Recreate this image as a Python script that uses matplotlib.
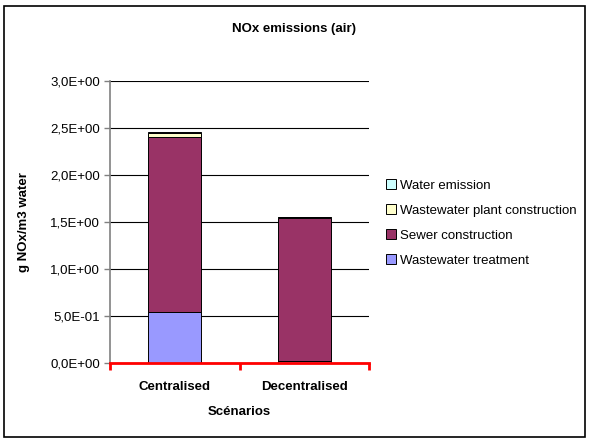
import matplotlib
matplotlib.use("Agg")
import matplotlib.pyplot as plt
import numpy as np
from matplotlib.patches import Rectangle

plt.rcParams['font.family'] = ['Liberation Sans', 'DejaVu Sans']

categories = ["Centralised", "Decentralised"]
series_names = ["Wastewater treatment", "Sewer construction",
                "Wastewater plant construction", "Water emission"]
wastewater_treatment = [0.54, 0.02]
sewer_construction = [1.86, 1.52]
plant_construction = [0.05, 0.012]
water_emission = [0.003, 0.002]
colors = ["#9999FF", "#993366", "#FFFFCC", "#CCFFFF"]
yticks = [0.0, 0.5, 1.0, 1.5, 2.0, 2.5, 3.0]
ytick_labels = ["0,0E+00", "5,0E-01", "1,0E+00", "1,5E+00", "2,0E+00", "2,5E+00", "3,0E+00"]

FS = 9.5
fig = plt.figure(figsize=(5.89, 4.41), dpi=100)
fig.patches.append(Rectangle((0.006, 0.008), 0.988, 0.978, transform=fig.transFigure,
                             fill=False, edgecolor="black", linewidth=1.2))
ax = fig.add_axes([0.1868, 0.1776, 0.4397, 0.6387])

x = np.arange(len(categories))
bottom = np.zeros(len(categories))
handles = []
for name, vals, c in zip(series_names,
                         [wastewater_treatment, sewer_construction, plant_construction, water_emission],
                         colors):
    b = ax.bar(x, vals, width=0.41, bottom=bottom, color=c, edgecolor="black",
               linewidth=0.7, label=name, zorder=3)
    handles.append(b)
    bottom += np.array(vals)

ax.set_xlim(-0.5, 1.5)
ax.set_ylim(0, 3.0)
ax.set_yticks(yticks)
ax.set_yticklabels(ytick_labels, fontsize=FS)
ax.yaxis.grid(True, color="black", linewidth=0.8, zorder=0)
ax.tick_params(axis="y", length=4, color="gray", width=1, pad=3)

ax.set_xticks([-0.5, 0.5, 1.5])
ax.set_xticklabels([])
ax.set_xticks(x, minor=True)
ax.set_xticklabels(categories, minor=True, fontsize=FS, fontweight="bold")
ax.tick_params(axis="x", which="major", length=5, width=2, color="red", direction="out")
ax.tick_params(axis="x", which="minor", length=0, pad=13)

for s in ["top", "right"]:
    ax.spines[s].set_visible(False)
ax.spines["left"].set_color("gray")
ax.spines["left"].set_linewidth(1.2)
ax.spines["bottom"].set_color("red")
ax.spines["bottom"].set_linewidth(2)
ax.spines["bottom"].set_zorder(4)

ax.set_xlabel("Scénarios", fontsize=FS, fontweight="bold")
ax.xaxis.set_label_coords(0.5, -0.155)
ax.set_ylabel("g NOx/m3 water", fontsize=FS, fontweight="bold")
ax.yaxis.set_label_coords(-0.31, 0.5)
fig.text(0.5, 0.935, "NOx emissions (air)", ha="center", va="center",
         fontsize=FS, fontweight="bold")

leg = fig.legend(handles[::-1], series_names[::-1], loc="center left",
                 bbox_to_anchor=(0.655, 0.494), frameon=False, fontsize=FS,
                 handlelength=0.75, handleheight=0.75, handletextpad=0.3,
                 labelspacing=0.95, borderpad=0, borderaxespad=0)

fig.savefig("out.png", dpi=100)
